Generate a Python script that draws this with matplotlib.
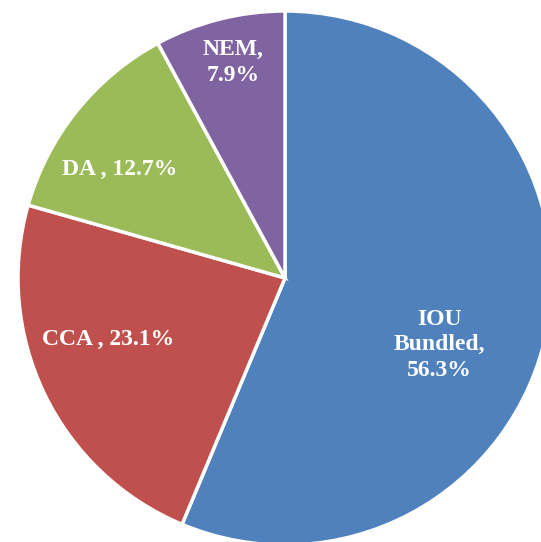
import matplotlib
matplotlib.use("Agg")
import matplotlib.pyplot as plt
import numpy as np

categories = ["IOU Bundled", "CCA", "DA", "NEM"]
values = [56.3, 23.1, 12.7, 7.9]
colors = ["#4F81BD", "#C0504D", "#9BBB59", "#8064A2"]
label_texts = ["IOU\nBundled,\n56.3%", "CCA , 23.1%", "DA , 12.7%", "NEM,\n7.9%"]

W, H = 541, 542
fig = plt.figure(figsize=(W / 100, H / 100), dpi=100)
ax = fig.add_axes([0, 0, 1, 1])
cx, cy, R = 285, H - 278, 267
wedges, _ = ax.pie(values, colors=colors, startangle=90, counterclock=False,
                   center=(cx, cy), radius=R,
                   wedgeprops=dict(edgecolor="white", linewidth=2.5))
ax.set_aspect("equal", adjustable="datalim")
ax.set_xlim(0, W)
ax.set_ylim(0, H)
ax.axis("off")

# label placement (angle in degrees, radius fraction)
label_pos = [(-23.4, 0.63), (199.3, 0.70), (146.8, 0.74), (103.6, 0.83)]
for txt, (ang, rf) in zip(label_texts, label_pos):
    a = np.deg2rad(ang)
    ax.text(cx + rf * R * np.cos(a), cy + rf * R * np.sin(a), txt,
            ha="center", va="center", color="white", fontsize=17,
            fontweight="bold", family="Liberation Serif", linespacing=1.3)

fig.savefig("out.png", dpi=100)
